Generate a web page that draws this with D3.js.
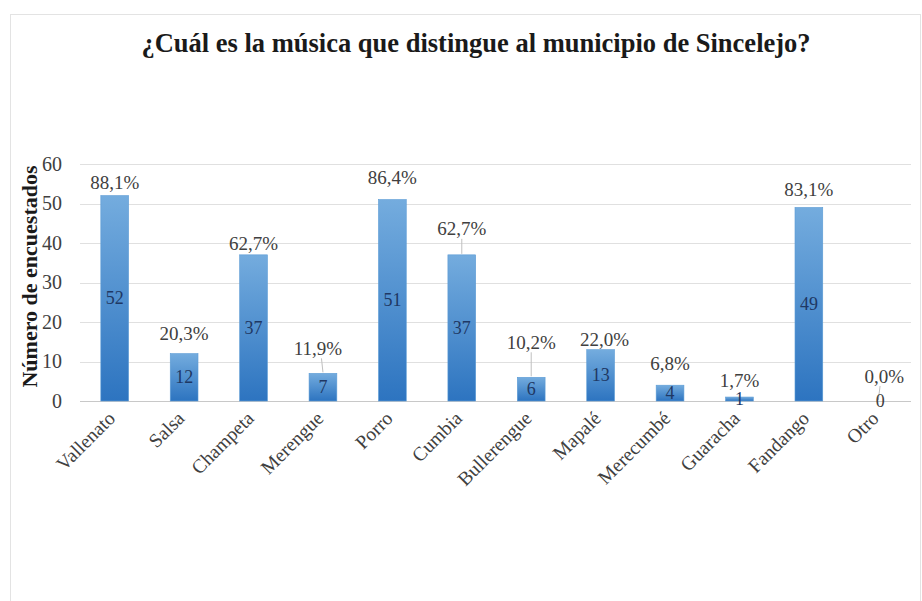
<!DOCTYPE html>
<html>
<head>
<meta charset="utf-8">
<script src="https://cdn.jsdelivr.net/npm/d3@7"></script>
<style>
  html, body { margin: 0; padding: 0; background: #fff; }
  svg { display: block; font-family: "Liberation Serif", "Times New Roman", serif; }
</style>
</head>
<body>
<svg id="chart" width="922" height="601"></svg>
<script>
// Survey answers: which music identifies Sincelejo
const categories = ["Vallenato", "Salsa", "Champeta", "Merengue", "Porro", "Cumbia",
  "Bullerengue", "Mapalé", "Merecumbé", "Guaracha", "Fandango", "Otro"];
const counts = [52, 12, 37, 7, 51, 37, 6, 13, 4, 1, 49, 0];
const percents = ["88,1%", "20,3%", "62,7%", "11,9%", "86,4%", "62,7%",
  "10,2%", "22,0%", "6,8%", "1,7%", "83,1%", "0,0%"];
const yTicks = [0, 10, 20, 30, 40, 50, 60];

const FONT = '"Liberation Serif", "Times New Roman", serif';
const svg = d3.select("#chart");
const W = 922, H = 601;
const m = { top: 164, right: 8, bottom: 200, left: 80 };

// outer frame
svg.append("rect")
  .attr("x", 10.5).attr("y", 14.5)
  .attr("width", W - 12).attr("height", H - 14)
  .attr("fill", "#fff").attr("stroke", "#e3e3e3");

// title
svg.append("text")
  .attr("x", 476).attr("y", 52)
  .attr("text-anchor", "middle")
  .style("font-family", FONT)
  .style("font-size", "26.5px").style("font-weight", "bold")
  .attr("fill", "#1a1a1a")
  .text("¿Cuál es la música que distingue al municipio de Sincelejo?");

const x = d3.scaleBand()
  .domain(categories)
  .range([m.left, W - m.right - 1])
  .paddingInner(0.6).paddingOuter(0.3);

const y = d3.scaleLinear().domain([0, 60]).range([H - m.bottom, m.top]);

// gradient fill for the bars
const defs = svg.append("defs");
const grad = defs.append("linearGradient").attr("id", "barGrad")
  .attr("x1", 0).attr("y1", 0).attr("x2", 0).attr("y2", 1);
grad.append("stop").attr("offset", "0%").attr("stop-color", "#74acde");
grad.append("stop").attr("offset", "100%").attr("stop-color", "#2d74c0");

// gridlines
svg.append("g")
  .selectAll("line").data(yTicks).join("line")
  .attr("x1", m.left).attr("x2", W - m.right - 3)
  .attr("y1", d => Math.round(y(d)) + 0.5).attr("y2", d => Math.round(y(d)) + 0.5)
  .attr("stroke", d => d === 0 ? "#c8c8c8" : "#e0e0e0")
  .attr("stroke-width", 1.2);

// y axis tick labels
const yAxis = d3.axisLeft(y).tickValues(yTicks).tickSize(0).tickPadding(0);
const gy = svg.append("g").attr("transform", `translate(${m.left - 18},0)`).call(yAxis);
gy.attr("font-family", null).attr("font-size", null);
gy.select(".domain").remove();
gy.selectAll("text")
  .style("font-family", FONT)
  .style("font-size", "20px").attr("fill", "#404040");

// y axis title
svg.append("text")
  .attr("transform", `translate(29,${(y(0) + y(60)) / 2 - 6}) rotate(-90)`)
  .attr("text-anchor", "middle")
  .attr("dominant-baseline", "central")
  .style("font-family", FONT)
  .style("font-size", "22px").style("font-weight", "bold")
  .attr("fill", "#1a1a1a")
  .text("Número de encuestados");

// bars
const data = categories.map((c, i) => ({ c, v: counts[i], p: percents[i] }));
svg.append("g").selectAll("rect").data(data).join("rect")
  .attr("x", d => x(d.c))
  .attr("y", d => y(d.v))
  .attr("width", x.bandwidth())
  .attr("height", d => y(0) - y(d.v))
  .attr("fill", "url(#barGrad)")
  .attr("stroke", "#5b9bd5").attr("stroke-width", 0.6);

// percentage labels: distance of label centre above bar top
const lift = { Vallenato: 13, Salsa: 20, Champeta: 11, Merengue: 25, Porro: 22,
  Cumbia: 26, Bullerengue: 35, "Mapalé": 10, "Merecumbé": 22, Guaracha: 17,
  Fandango: 18, Otro: 25 };
const nudgeX = { Merengue: -5, "Mapalé": 4, Otro: 6 };
const leaders = ["Merengue", "Cumbia", "Bullerengue", "Otro"];

const lbl = svg.append("g");
data.forEach(d => {
  const cx = x(d.c) + x.bandwidth() / 2;
  const top = y(d.v);
  const ly = top - lift[d.c];
  if (leaders.includes(d.c)) {
    lbl.append("line")
      .attr("x1", cx + (nudgeX[d.c] || 0) * 0.3).attr("y1", ly + 10)
      .attr("x2", cx).attr("y2", top - 1)
      .attr("stroke", "#bfbfbf").attr("stroke-width", 1);
  }
  lbl.append("text")
    .attr("x", cx + (nudgeX[d.c] || 0)).attr("y", ly)
    .attr("text-anchor", "middle").attr("dominant-baseline", "central")
    .style("font-family", FONT).style("font-size", "19px")
    .attr("fill", "#404040")
    .text(d.p);
  // count inside the bar
  lbl.append("text")
    .attr("x", cx + (d.c === "Otro" ? 2 : 0))
    .attr("y", d.v > 0 ? (top + y(0)) / 2 : y(0))
    .attr("text-anchor", "middle").attr("dominant-baseline", "central")
    .style("font-family", FONT).style("font-size", "18px")
    .attr("fill", d.v > 0 ? "#1f3864" : "#404040")
    .text(d.v);
});

// category labels, rotated
svg.append("g").selectAll("text").data(categories).join("text")
  .attr("transform", d => `translate(${x(d) + x.bandwidth() / 2 - 3},${y(0) + 14}) rotate(-45)`)
  .attr("text-anchor", "end")
  .attr("dominant-baseline", "central")
  .style("font-family", FONT).style("font-size", "19.5px")
  .attr("fill", "#404040")
  .text(d => d);
</script>
</body>
</html>
